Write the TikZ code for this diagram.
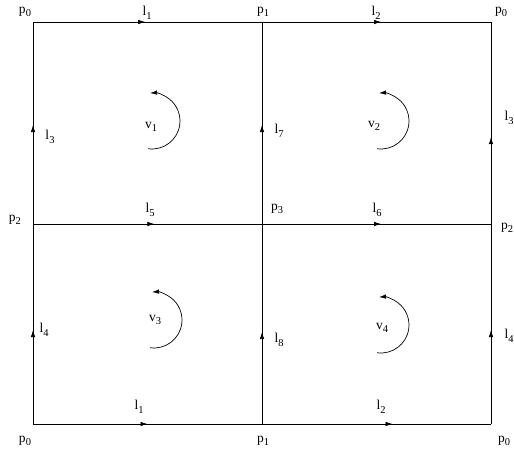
\documentclass[tikz,border=0pt]{standalone}
\usepackage{fontspec}
\setmainfont{Liberation Serif}
\usetikzlibrary{arrows.meta,decorations.markings}
\newcommand{\lsub}[2]{#1\raisebox{-3.5pt}{\fontsize{10.5}{11}\selectfont #2}}
\tikzset{
  edge/.style={line width=0.7pt, postaction={decorate},
    decoration={markings, mark=at position #1 with {\arrow{Latex[length=7pt,width=4.5pt]}}}},
  lbl/.style={font=\fontsize{13.5}{15}\selectfont, inner sep=0pt},
  turn/.style={line width=0.7pt, -{Latex[length=7pt,width=4.5pt]}}
}
\begin{document}
\begin{tikzpicture}[x=1pt,y=1pt]
\useasboundingbox (0,0) rectangle (514,456);
% grid points
\coordinate (tl) at (33,434);  \coordinate (tm) at (262,434); \coordinate (tr) at (491,434);
\coordinate (ml) at (33,232);  \coordinate (mm) at (262,232); \coordinate (mr) at (491,232);
\coordinate (bl) at (33,32);   \coordinate (bm) at (262,32);  \coordinate (br) at (491,32);
% horizontal edges
\draw[edge=0.49] (tl) -- (tm);
\draw[edge=0.52] (tm) -- (tr);
\draw[edge=0.53] (ml) -- (mm);
\draw[edge=0.52] (mm) -- (mr);
\draw[edge=0.50] (bl) -- (bm);
\draw[edge=0.57] (bm) -- (br);
% vertical edges
\draw[edge=0.49] (ml) -- (tl);
\draw[edge=0.49] (mm) -- (tm);
\draw[edge=0.43] (mr) -- (tr);
\draw[edge=0.47] (bl) -- (ml);
\draw[edge=0.46] (bm) -- (mm);
\draw[edge=0.47] (br) -- (mr);
% point labels
\node[lbl] (p0a) at (25,444) {\lsub{p}{0}};
\node[lbl] (p1a) at (263,444) {\lsub{p}{1}};
\node[lbl] (p0b) at (501,444) {\lsub{p}{0}};
\node[lbl] (p2a) at (15,236) {\lsub{p}{2}};
\node[lbl] (p3) at (277,247) {\lsub{p}{3}};
\node[lbl] (p2b) at (507,228) {\lsub{p}{2}};
\node[lbl] (p0c) at (25,15) {\lsub{p}{0}};
\node[lbl] (p1b) at (263,15) {\lsub{p}{1}};
\node[lbl] (p0d) at (504,15) {\lsub{p}{0}};
% edge labels
\node[lbl] (l1a) at (147,443) {\lsub{l}{1}};
\node[lbl] (l2a) at (376,443) {\lsub{l}{2}};
\node[lbl] (l3a) at (50,319) {\lsub{l}{3}};
\node[lbl] (l7) at (279,325) {\lsub{l}{7}};
\node[lbl] (l3b) at (509,338) {\lsub{l}{3}};
\node[lbl] (l5) at (150,246) {\lsub{l}{5}};
\node[lbl] (l6) at (377,246) {\lsub{l}{6}};
\node[lbl] (l4a) at (44,126) {\lsub{l}{4}};
\node[lbl] (l8) at (279,116) {\lsub{l}{8}};
\node[lbl] (l4b) at (509,120) {\lsub{l}{4}};
\node[lbl] (l1b) at (139,49) {\lsub{l}{1}};
\node[lbl] (l2b) at (381,49) {\lsub{l}{2}};
% face labels and orientation arcs
\node[lbl] (v1) at (151,329) {\lsub{v}{1}};
\node[lbl] (v2) at (374,330) {\lsub{v}{2}};
\node[lbl] (v3) at (155,136) {\lsub{v}{3}};
\node[lbl] (v4) at (382,128) {\lsub{v}{4}};
\coordinate (c1) at (152,335);
\coordinate (c2) at (381,335);
\coordinate (c3) at (154,136);
\coordinate (c4) at (381,131);
\foreach \c in {c1,c2,c3,c4}
  \draw[turn] ([shift={(-98:28)}]\c) arc[start angle=-98, end angle=94, radius=28];
\end{tikzpicture}
\end{document}
